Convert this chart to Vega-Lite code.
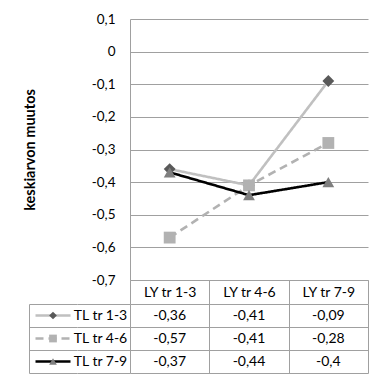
{
  "$schema": "https://vega.github.io/schema/vega-lite/v6.json",
  "padding": {"left": 21, "top": 12, "right": 4, "bottom": 4},
  "bounds": "flush",
  "spacing": {"row": 24, "column": 0},
  "columns": 3,
  "datasets": {
    "d": [
      {"series": "TL tr 1-3", "category": "LY tr 1-3", "value": -0.36},
      {"series": "TL tr 1-3", "category": "LY tr 4-6", "value": -0.41},
      {"series": "TL tr 1-3", "category": "LY tr 7-9", "value": -0.09},
      {"series": "TL tr 4-6", "category": "LY tr 1-3", "value": -0.57},
      {"series": "TL tr 4-6", "category": "LY tr 4-6", "value": -0.41},
      {"series": "TL tr 4-6", "category": "LY tr 7-9", "value": -0.28},
      {"series": "TL tr 7-9", "category": "LY tr 1-3", "value": -0.37},
      {"series": "TL tr 7-9", "category": "LY tr 4-6", "value": -0.44},
      {"series": "TL tr 7-9", "category": "LY tr 7-9", "value": -0.4}
    ]
  },
  "config": {
    "locale": {"number": {"decimal": ",", "thousands": " ", "grouping": [3], "currency": ["", " €"], "minus": "-"}},
    "view": {"stroke": null},
    "font": "Lato",
    "axis": {"labelFont": "Lato", "labelFontSize": 13.5, "labelColor": "#000000", "titleFont": "Lato", "titleColor": "#000000"},
    "text": {"font": "Lato", "fontSize": 14, "color": "#000000"}
  },
  "concat": [
    {"width": 48, "height": 261, "data": {"values": []}, "mark": "point"},
    {"width": 53, "height": 261, "data": {"values": []}, "mark": "point"},
    {
      "width": 238,
      "height": 261,
      "data": {"name": "d"},
      "encoding": {
        "x": {
          "field": "category", "type": "nominal", "sort": null,
          "scale": {"type": "band", "paddingInner": 0, "paddingOuter": 0},
          "axis": {"title": null, "labelAngle": 0, "labelFontSize": 14, "domainColor": "#a0a0a0", "tickColor": "#a0a0a0", "tickSize": 24, "tickBand": "extent", "labelPadding": -12, "labelBaseline": "middle", "grid": false}
        },
        "y": {
          "field": "value", "type": "quantitative",
          "scale": {"domain": [-0.7, 0.1], "nice": false, "zero": false},
          "axis": {
            "title": "keskiarvon muutos",
            "values": [0.1, 0, -0.1, -0.2, -0.3, -0.4, -0.5, -0.6, -0.7],
            "format": "~g", "ticks": false, "tickSize": 0, "labelPadding": 15,
            "grid": true, "gridColor": "#a0a0a0", "domainColor": "#a0a0a0",
            "titleFontSize": 14.5, "titleFontWeight": "bold", "titleX": -100, "titleBaseline": "middle"
          }
        }
      },
      "layer": [
        {
          "mark": {"type": "line", "strokeWidth": 2.6},
          "encoding": {
            "color": {"field": "series", "type": "nominal", "scale": {"domain": ["TL tr 1-3", "TL tr 4-6", "TL tr 7-9"], "range": ["#c0c0c0", "#b2b2b2", "#000000"]}, "legend": null},
            "strokeDash": {"field": "series", "type": "nominal", "scale": {"domain": ["TL tr 1-3", "TL tr 4-6", "TL tr 7-9"], "range": [[1, 0], [8, 5], [1, 0]]}, "legend": null}
          }
        },
        {
          "mark": {"type": "point", "filled": true, "opacity": 1, "size": 140, "strokeWidth": 0},
          "encoding": {
            "fill": {"field": "series", "type": "nominal", "scale": {"domain": ["TL tr 1-3", "TL tr 4-6", "TL tr 7-9"], "range": ["#595959", "#b2b2b2", "#7f7f7f"]}, "legend": null},
            "shape": {"field": "series", "type": "nominal", "scale": {"domain": ["TL tr 1-3", "TL tr 4-6", "TL tr 7-9"], "range": ["diamond", "square", "triangle-up"]}, "legend": null}
          }
        }
      ]
    },
    {
      "width": 48,
      "height": 69,
      "data": {"name": "d"},
      "transform": [{"filter": "datum.category == 'LY tr 1-3'"}],
      "encoding": {
        "y": {
          "field": "series", "type": "nominal",
          "scale": {"type": "band", "paddingInner": 0, "paddingOuter": 0},
          "axis": {"title": null, "labels": false, "ticks": false, "domain": true, "domainColor": "#a0a0a0", "grid": true, "gridColor": "#a0a0a0", "tickBand": "extent"}
        }
      },
      "layer": [
        {
          "mark": {"type": "point", "shape": "M-1,0H1", "filled": false, "opacity": 1, "size": 1225, "strokeWidth": 2.6},
          "encoding": {
            "color": {"field": "series", "type": "nominal", "legend": null},
            "strokeDash": {"field": "series", "type": "nominal", "legend": null}
          }
        },
        {
          "mark": {"type": "point", "filled": true, "opacity": 1, "size": 60, "strokeWidth": 0},
          "encoding": {
            "fill": {"field": "series", "type": "nominal", "legend": null},
            "shape": {"field": "series", "type": "nominal", "legend": null}
          }
        }
      ]
    },
    {
      "width": 53,
      "height": 69,
      "data": {"name": "d"},
      "transform": [{"filter": "datum.category == 'LY tr 1-3'"}],
      "mark": {"type": "text", "fontSize": 14, "dx": -3},
      "encoding": {
        "y": {
          "field": "series", "type": "nominal",
          "scale": {"type": "band", "paddingInner": 0, "paddingOuter": 0},
          "axis": {"title": null, "labels": false, "ticks": false, "domain": false, "grid": true, "gridColor": "#a0a0a0", "tickBand": "extent"}
        },
        "text": {"field": "series", "type": "nominal"}
      }
    },
    {
      "width": 238,
      "height": 69,
      "data": {"name": "d"},
      "mark": {"type": "text", "fontSize": 14},
      "encoding": {
        "x": {
          "field": "category", "type": "nominal", "sort": null,
          "scale": {"type": "band", "paddingInner": 0, "paddingOuter": 0},
          "axis": {"title": null, "labels": false, "ticks": false, "domain": false, "grid": true, "gridColor": "#a0a0a0", "tickBand": "extent"}
        },
        "y": {
          "field": "series", "type": "nominal",
          "scale": {"type": "band", "paddingInner": 0, "paddingOuter": 0},
          "axis": {"title": null, "labels": false, "ticks": false, "domain": false, "grid": true, "gridColor": "#a0a0a0", "tickBand": "extent"}
        },
        "text": {"field": "value", "type": "quantitative", "format": "~g"}
      }
    }
  ]
}
